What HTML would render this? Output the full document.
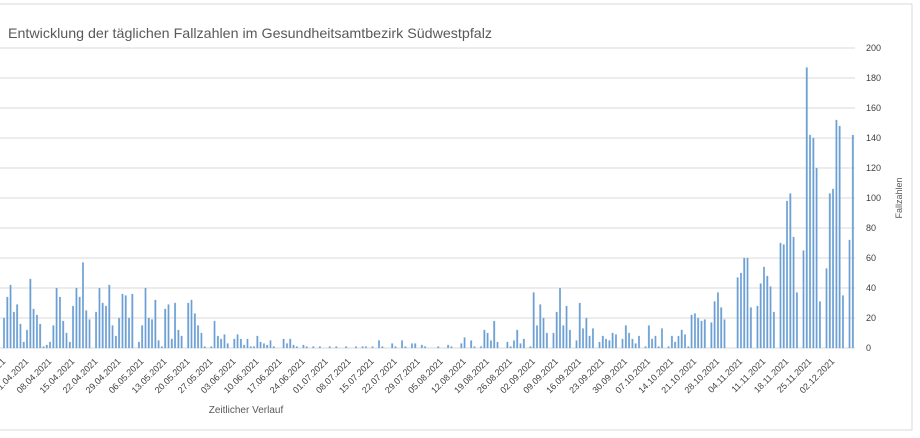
<!DOCTYPE html>
<html><head><meta charset="utf-8">
<style>
body{margin:0;background:#fff;}
svg{display:block;font-family:"Liberation Sans",sans-serif;}
</style></head>
<body>
<svg id="chart" width="920" height="438" viewBox="0 0 920 438" xmlns="http://www.w3.org/2000/svg">
<rect x="-1" y="4" width="913" height="426" fill="#fff" stroke="#d9d9d9"/>
<text x="8" y="38" font-size="14" fill="#595959" textLength="484" lengthAdjust="spacingAndGlyphs">Entwicklung der täglichen Fallzahlen im Gesundheitsamtbezirk Südwestpfalz</text>
<g id="grid"></g>
<g id="bars"></g>
<g id="yticks"></g>
<g id="xticks"></g>
<text transform="translate(902,198) rotate(-90)" font-size="9" fill="#595959" text-anchor="middle">Fallzahlen</text>
<text x="246" y="413" font-size="10" fill="#595959" text-anchor="middle">Zeitlicher Verlauf</text>
</svg>
<script>
const startDate = [2021, 3, 25];
const values = [20,34,42,24,29,16,4,12,46,26,22,16,1,2,4,15,40,34,18,10,4,28,40,34,57,25,19,0,24,40,30,28,42,15,8,20,36,35,20,36,0,4,15,40,20,
19,32,5,1,26,29,6,30,12,8,0,30,32,23,15,10,1,0,1,18,8,6,9,3,0,6,9,6,2,6,1,1,8,4,3,2,5,1,0,0,6,3,6,2,1,
0,2,1,0,1,0,1,0,0,1,0,1,0,0,1,0,0,1,0,1,1,0,1,0,5,1,0,0,3,1,0,5,1,0,3,3,0,2,1,0,0,0,1,0,0,2,1,0,0,3,7,0,5,1,0,1,12,10,5,
18,4,0,0,4,1,5,12,3,6,0,1,37,15,29,20,10,0,10,24,40,15,28,12,0,5,30,13,20,8,13,0,4,8,6,5,10,9,0,6,15,10,6,3,8,0,1,15,6,8,1,13,0,1,8,4,8,12,9,
1,22,23,20,18,19,0,17,31,37,27,19,0,0,0,47,50,60,60,27,0,28,43,54,48,41,24,0,70,69,98,103,74,37,0,65,187,142,140,120,31,0,53,103,106,152,148,35,0,72,142];
const yTicks = [0,20,40,60,80,100,120,140,160,180,200];
const labelEvery = 7;

const NS='http://www.w3.org/2000/svg';
const x0=4, dx=3.29, yBase=348, yScale=1.5, plotR=855;
const xPos=i=>x0+i*dx;
const yPos=v=>yBase-v*yScale;
const grid=document.getElementById('grid'), bars=document.getElementById('bars'),
 yt=document.getElementById('yticks'), xt=document.getElementById('xticks');
function mk(tag,attrs,parent){const e=document.createElementNS(NS,tag);for(const k in attrs)e.setAttribute(k,attrs[k]);parent.appendChild(e);return e;}
yTicks.forEach(v=>{
  const l=mk('line',{x1:0,x2:plotR,y1:yPos(v),y2:yPos(v),stroke:'#d9d9d9','stroke-width':1},grid);
  
  
  const t=mk('text',{x:866,y:yPos(v)+3,'font-size':9,fill:'#404040'},yt);
  t.textContent=v;
  
  
});
values.forEach((v,i)=>{
  if(v<=0)return;
  const r=mk('rect',{x:xPos(i)-0.8,y:yPos(v),width:1.6,height:v*yScale,fill:'#6b9fd3',stroke:'#8fb7e0','stroke-width':0.3},bars);
  
  
});
function fmt(d){const p=n=>String(n).padStart(2,'0');return p(d.getDate())+'.'+p(d.getMonth()+1)+'.'+d.getFullYear();}
for(let i=0;i<values.length;i+=labelEvery){
  const d=new Date(startDate[0],startDate[1]-1,startDate[2]+i);
  const x=xPos(i)+2, y=362;
  const t=mk('text',{x:x,y:y,'font-size':9,fill:'#404040','text-anchor':'end',transform:`rotate(-45 ${x} ${y})`},xt);
  t.textContent=fmt(d);
  
  
}
</script>
</body></html>
